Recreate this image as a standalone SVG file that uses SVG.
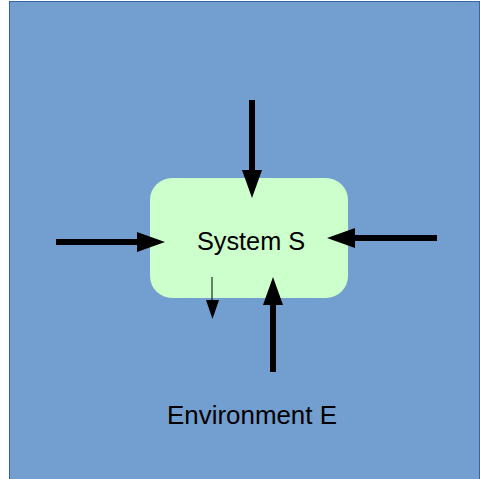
<svg xmlns="http://www.w3.org/2000/svg" width="480" height="479" viewBox="0 0 480 479">
<style>
.shaft{stroke:#000;stroke-width:6;fill:none}
.head{fill:#000}
.lbl{font-family:"Liberation Sans",Arial,sans-serif;font-size:25.3px;fill:#000;text-anchor:middle}
</style>
<g id="environment">
<rect x="9.5" y="1.5" width="470" height="480" fill="#729fcf" stroke="#3465a4" stroke-width="1"/>
<text class="lbl" x="252" y="424" style="font-size:25.9px">Environment E</text>
</g>
<g id="system">
<rect x="150" y="178" width="198" height="120" rx="22" ry="22" fill="#ccffcc"/>
<text class="lbl" x="251" y="250">System S</text>
</g>
<g id="connectors">
<line class="shaft" x1="252" y1="100" x2="252" y2="172"/>
<polygon class="head" points="242,170 262,170 252,198"/>
<line class="shaft" x1="56" y1="242" x2="140" y2="242"/>
<polygon class="head" points="137,232 137,252 165,242"/>
<line class="shaft" x1="437" y1="238" x2="352" y2="238"/>
<polygon class="head" points="355,228 355,248 327,238"/>
<line class="shaft" x1="273" y1="372" x2="273" y2="303"/>
<polygon class="head" points="263,305 283,305 273,277"/>
<line x1="212" y1="277" x2="212" y2="302" stroke="#000" stroke-width="1"/>
<polygon class="head" points="206,300 219,300 212.5,319"/>
</g>
</svg>
